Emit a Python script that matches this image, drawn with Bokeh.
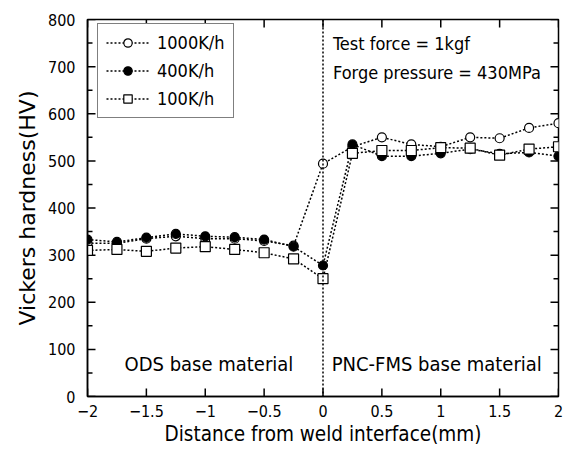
from bokeh.plotting import figure
from bokeh.models import Span, Label, Legend, LegendItem, FixedTicker, Title
from bokeh.embed import file_html
from bokeh.resources import INLINE

# ---- data ----
distance = [-2, -1.75, -1.5, -1.25, -1, -0.75, -0.5, -0.25, 0,
            0.25, 0.5, 0.75, 1, 1.25, 1.5, 1.75, 2]
hv_1000 = [325, 325, 335, 340, 335, 335, 330, 320, 494,
           530, 550, 535, 530, 550, 548, 570, 580]
hv_400 = [333, 328, 337, 345, 340, 338, 333, 318, 278,
          535, 510, 510, 516, 525, 515, 518, 510]
hv_100 = [310, 312, 308, 315, 318, 312, 305, 292, 250,
          516, 522, 522, 528, 527, 512, 525, 530]
series_labels = ["1000K/h", "400K/h", "100K/h"]
x_ticks = [-2, -1.5, -1, -0.5, 0, 0.5, 1, 1.5, 2]
y_ticks = [0, 100, 200, 300, 400, 500, 600, 700, 800]
y_minor = [50, 150, 250, 350, 450, 550, 650, 750]
x_lim = (-2, 2)
y_lim = (0, 800)
x_title = "Distance from weld interface(mm)"
y_title = "Vickers hardness(HV)"
annot_top = ["Test force = 1kgf", "Forge pressure = 430MPa"]
region_labels = ["ODS base material", "PNC-FMS base material"]

NARROW = "'Liberation Sans Narrow', 'DejaVu Sans Condensed', sans-serif"

FW, FH = 471, 377
p = figure(frame_width=FW, frame_height=FH, x_range=x_lim, y_range=y_lim,
           output_backend="svg", toolbar_location=None,
           min_border_left=87, min_border_right=10, min_border_top=19, min_border_bottom=53)
p.grid.visible = False
p.outline_line_color = "black"
p.outline_line_width = 1.5
p.outline_line_alpha = 1
p.background_fill_color = "white"
p.border_fill_color = "white"

xa = p.xaxis[0]
ya = p.yaxis[0]
for ax in (xa, ya):
    ax.axis_line_width = 1.5
    ax.axis_line_color = "black"
    ax.major_tick_in = 0
    ax.major_tick_out = 0
    ax.minor_tick_in = 0
    ax.minor_tick_out = 0
    ax.major_label_text_color = "black"
    ax.axis_label_text_color = "black"
    ax.axis_label_text_font_style = "normal"

xa.ticker = FixedTicker(ticks=x_ticks)
ya.ticker = FixedTicker(ticks=y_ticks)

def fmt(t):
    s = str(int(t)) if t == int(t) else str(t)
    return s.replace("-", "\u2212")

xa.major_label_overrides = {t: fmt(t) for t in x_ticks}
xa.major_label_text_font = NARROW
xa.major_label_text_font_size = "16px"
xa.major_label_standoff = 8
xa.axis_label = x_title
xa.axis_label_text_font = NARROW
xa.axis_label_text_font_size = "20.5px"
xa.axis_label_standoff = 2
ya.major_label_text_font = NARROW
ya.major_label_text_font_size = "16px"
ya.major_label_standoff = 12

# y-axis title as a side title (sits slightly below centre, as in the original)
p.add_layout(Title(text=y_title, align="center", offset=12, standoff=12,
                   text_font="DejaVu Sans", text_font_size="22px",
                   text_font_style="normal", text_color="black"), "left")

# inward tick marks on all four sides, lengths given in pixels
xspan = x_lim[1] - x_lim[0]
yspan = y_lim[1] - y_lim[0]
maj_px, min_px = 8, 5
dy_maj = maj_px / FH * yspan
dx_maj = maj_px / FW * xspan
dx_min = min_px / FW * xspan
tk = dict(line_color="black", line_width=1.5)
nx = len(x_ticks)
p.segment(x_ticks, [y_lim[0]] * nx, x_ticks, [y_lim[0] + dy_maj] * nx, **tk)
p.segment(x_ticks, [y_lim[1]] * nx, x_ticks, [y_lim[1] - dy_maj] * nx, **tk)
ny = len(y_ticks)
p.segment([x_lim[0]] * ny, y_ticks, [x_lim[0] + dx_maj] * ny, y_ticks, **tk)
p.segment([x_lim[1]] * ny, y_ticks, [x_lim[1] - dx_maj] * ny, y_ticks, **tk)
nm = len(y_minor)
p.segment([x_lim[0]] * nm, y_minor, [x_lim[0] + dx_min] * nm, y_minor, **tk)
p.segment([x_lim[1]] * nm, y_minor, [x_lim[1] - dx_min] * nm, y_minor, **tk)

# interface line
p.add_layout(Span(location=0, dimension="height", line_color="black",
                  line_width=1.5, line_dash="2 2"))

dash = "2 2"
items = []
specs = [
    (hv_1000, "circle", "white", 9),
    (hv_400, "circle", "black", 9),
    (hv_100, "square", "white", 10),
]
for vals, marker, fill, size in specs:
    r_line = p.line(distance, vals, line_color="black", line_width=1.5, line_dash=dash)
    r_pts = p.scatter(distance, vals, marker=marker, size=size, fill_color=fill,
                      line_color="black", line_width=1.2)
    items.append((r_line, r_pts))

legend = Legend(items=[LegendItem(label=lab, renderers=list(rs)) for lab, rs in zip(series_labels, items)],
                location=(10, 278), margin=0, padding=8, spacing=7,
                border_line_color="black", border_line_width=1.5,
                glyph_width=43, glyph_height=21, label_height=21, label_standoff=8,
                label_text_font=NARROW, label_text_font_size="18px",
                label_text_color="black",
                background_fill_alpha=1)
p.add_layout(legend)

for yv, txt in zip([749, 688], annot_top):
    p.add_layout(Label(x=0.085, y=yv, text=txt, text_font=NARROW,
                       text_font_size="18px", text_baseline="middle", text_color="black"))
for xv, txt in zip([-1.686, 0.074], region_labels):
    p.add_layout(Label(x=xv, y=69, text=txt, text_font=NARROW,
                       text_font_size="20px", text_baseline="middle", text_color="black"))

open("out.html", "w").write(file_html(p, INLINE))
